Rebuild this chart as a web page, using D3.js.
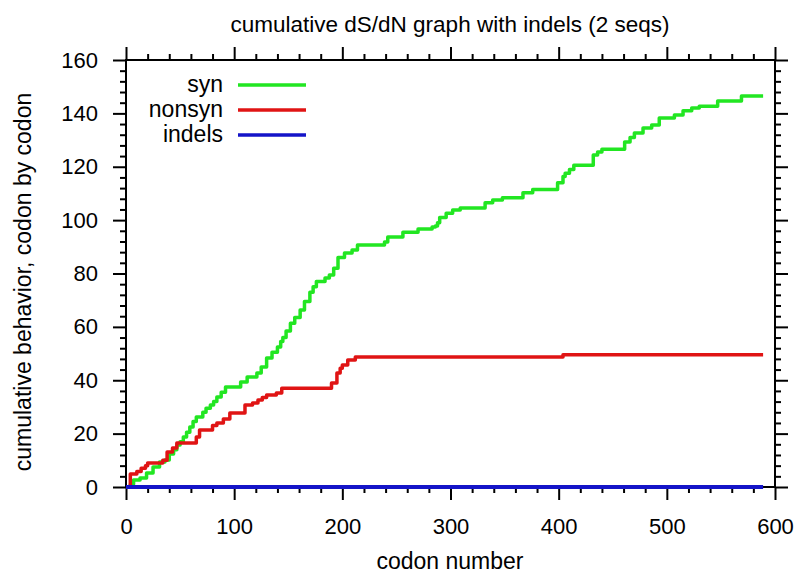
<!DOCTYPE html>
<html>
<head>
<meta charset="utf-8">
<script src="https://cdn.jsdelivr.net/npm/d3@7"></script>
<style>
  html, body { margin: 0; padding: 0; background: #fff; }
  svg { display: block; font-family: "Liberation Sans", Arial, Helvetica, sans-serif; }
</style>
</head>
<body>
<svg id="chart" width="798" height="573"></svg>
<script>
// ---- data ----
const title = "cumulative dS/dN graph with indels (2 seqs)";
const xLabel = "codon number";
const yLabel = "cumulative behavior, codon by codon";
const seriesNames = ["syn", "nonsyn", "indels"];
const xTicks = [0, 100, 200, 300, 400, 500, 600];
const yTicks = [0, 20, 40, 60, 80, 100, 120, 140, 160];

// step points: [codon, cumulative value]
const synSteps = [
  [0, 0], [4, 1], [7, 2.6], [13, 3.4], [19, 5.2], [25, 7.5], [31, 9.4], [36, 10.1],
  [40, 12.4], [44, 14], [47, 15.7], [50, 17], [53, 18.7], [56, 20.5], [59, 22.5],
  [62, 24.5], [65, 26.2], [71, 28], [74, 29.5], [78, 30.7], [81, 32], [84, 33.7],
  [88, 35.5], [92, 37.5], [106, 39.3], [112, 41.2], [121, 42.7], [125, 45], [130, 48.3],
  [135, 50.5], [140, 52.5], [143, 54.5], [145, 56], [148, 58.5], [152, 61.4], [156, 63.5],
  [161, 66.3], [165, 69.5], [170, 73], [173, 75], [176, 77], [184, 78.3], [188, 79.4],
  [192, 82], [196, 86], [202, 87.7], [209, 88.8], [214, 90.7], [239, 91.8], [242, 93.7],
  [256, 95.5], [270, 96.7], [283, 97.4], [286, 97.8], [288, 99], [290, 101], [296, 102.6],
  [302, 103.8], [309, 104.5], [332, 106.5], [339, 107.5], [348, 108.4], [367, 110.3],
  [376, 111.5], [399, 114], [404, 116.3], [406, 117.6], [410, 119], [414, 120.6],
  [432, 124.4], [436, 125.5], [440, 126.6], [461, 129.3], [466, 131], [470, 132.6],
  [478, 134.5], [486, 135.6], [493, 138.3], [507, 139.4], [515, 141], [523, 142],
  [530, 142.7], [547, 144.6], [569, 146.5], [589, 146.5]
];
const nonsynSteps = [
  [0, 0], [4, 4.9], [10, 5.8], [14, 7], [18, 8], [20, 9], [34, 10], [38, 13.1],
  [43, 14.6], [47, 16.5], [65, 18.7], [68, 21.4], [80, 23], [84, 24], [90, 25.5],
  [96, 27.7], [110, 30.7], [117, 31.5], [122, 32.6], [126, 33.5], [130, 34.5],
  [139, 35.2], [144, 37], [190, 39], [195, 42.7], [198, 44.5], [200, 45.7],
  [205, 47.6], [212, 48.7], [404, 49.6], [589, 49.6]
];
const indelSteps = [[0, 0], [589, 0]];

// ---- layout ----
const svg = d3.select("#chart");
const x = d3.scaleLinear().domain([0, 600]).range([126, 775]);
const y = d3.scaleLinear().domain([0, 160]).range([487, 60]);
const font = 22;

const xMinor = d3.range(0, 601, 20).filter(v => v % 100 !== 0);
const yMinor = d3.range(0, 161, 4).filter(v => v % 20 !== 0);

function styleAxis(g) {
  g.select(".domain").remove();
  g.selectAll(".tick line").attr("stroke", "#000").attr("stroke-width", 2);
  g.selectAll("text").attr("fill", "#000").attr("font-size", font)
    .attr("font-family", "Liberation Sans, Arial, sans-serif");
}

// bottom
svg.append("g").attr("transform", `translate(0,${y(0)})`)
  .call(d3.axisBottom(x).tickValues(xTicks).tickSize(13).tickPadding(18).tickFormat(d3.format("d")))
  .call(styleAxis);
svg.append("g").attr("transform", `translate(0,${y(0)})`)
  .call(d3.axisBottom(x).tickValues(xMinor).tickSize(6).tickFormat(""))
  .call(styleAxis);
// top
svg.append("g").attr("transform", `translate(0,${y(160)})`)
  .call(d3.axisTop(x).tickValues(xTicks).tickSize(13).tickFormat(""))
  .call(styleAxis);
svg.append("g").attr("transform", `translate(0,${y(160)})`)
  .call(d3.axisTop(x).tickValues(xMinor).tickSize(6).tickFormat(""))
  .call(styleAxis);
// left
svg.append("g").attr("transform", `translate(${x(0)},0)`)
  .call(d3.axisLeft(y).tickValues(yTicks).tickSize(13).tickPadding(15).tickFormat(d3.format("d")))
  .call(styleAxis);
svg.append("g").attr("transform", `translate(${x(0)},0)`)
  .call(d3.axisLeft(y).tickValues(yMinor).tickSize(6).tickFormat(""))
  .call(styleAxis);
// right
svg.append("g").attr("transform", `translate(${x(600)},0)`)
  .call(d3.axisRight(y).tickValues(yTicks).tickSize(13).tickFormat(""))
  .call(styleAxis);
svg.append("g").attr("transform", `translate(${x(600)},0)`)
  .call(d3.axisRight(y).tickValues(yMinor).tickSize(6).tickFormat(""))
  .call(styleAxis);

// frame
svg.append("rect")
  .attr("x", x(0)).attr("y", y(160))
  .attr("width", x(600) - x(0)).attr("height", y(0) - y(160))
  .attr("fill", "none").attr("stroke", "#000").attr("stroke-width", 2);

// lines
const line = d3.line().x(d => x(d[0])).y(d => y(d[1])).curve(d3.curveStepAfter);
const colors = ["#22e622", "#e01414", "#1414c8"];
const data = [synSteps, nonsynSteps, indelSteps];
const widths = [3.5, 3.5, 4];
data.forEach((d, i) => {
  svg.append("path").datum(d)
    .attr("d", line)
    .attr("fill", "none")
    .attr("stroke", colors[i])
    .attr("stroke-width", widths[i])
    .attr("stroke-linejoin", "round");
});

// legend
const legY = [85, 110, 135];
seriesNames.forEach((name, i) => {
  svg.append("text")
    .attr("x", 223).attr("y", legY[i] + 7)
    .attr("text-anchor", "end").attr("font-size", 23).attr("fill", "#000")
    .text(name);
  svg.append("line")
    .attr("x1", 238).attr("x2", 306)
    .attr("y1", legY[i]).attr("y2", legY[i])
    .attr("stroke", colors[i]).attr("stroke-width", 3.5);
});

// titles
svg.append("text").attr("x", 450).attr("y", 32)
  .attr("text-anchor", "middle").attr("font-size", 22.5).attr("fill", "#000")
  .text(title);
svg.append("text").attr("x", 450).attr("y", 569)
  .attr("text-anchor", "middle").attr("font-size", 23).attr("fill", "#000")
  .text(xLabel);
svg.append("text")
  .attr("transform", "translate(31,282) rotate(-90)")
  .attr("text-anchor", "middle").attr("font-size", 23).attr("fill", "#000")
  .text(yLabel);
</script>
</body>
</html>
